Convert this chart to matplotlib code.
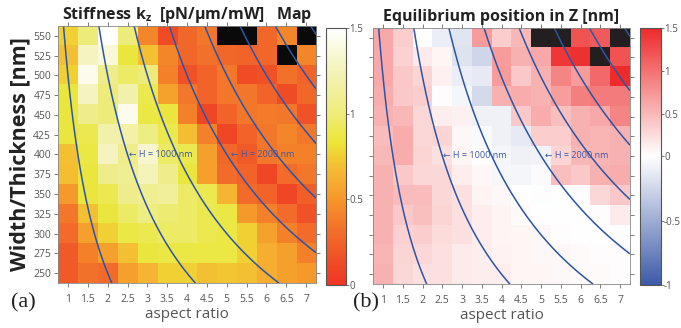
import numpy as np
import matplotlib
matplotlib.use('Agg')
from matplotlib import pyplot as plt
from matplotlib.colors import LinearSegmentedColormap, TwoSlopeNorm, Normalize

plt.rcParams['font.family'] = ['Open Sans', 'DejaVu Sans']
plt.rcParams['mathtext.fontset'] = 'custom'
plt.rcParams['mathtext.rm'] = 'Open Sans'
plt.rcParams['mathtext.bf'] = 'Open Sans:bold'

nan = np.nan
aspect = [1, 1.5, 2, 2.5, 3, 3.5, 4, 4.5, 5, 5.5, 6, 6.5, 7]
width = [550, 525, 500, 475, 450, 425, 400, 375, 350, 325, 300, 275, 250]
aspect_labels = ['1', '1.5', '2', '2.5', '3', '3.5', '4', '4.5', '5', '5.5', '6', '6.5', '7']
H_levels = [500, 1000, 1500, 2000, 2500, 3000, 3500, 4000]

# stiffness k_z [pN/um/mW], rows from 550 nm down to 250 nm
stiffness = [
    [0.75, 1.00, 1.50, 1.00, 0.43, 0.13, 0.28, 0.36, nan, nan, 0.28, 0.43, nan],
    [0.70, 1.28, 1.36, 0.85, 0.70, 0.43, 0.28, 0.33, 0.28, 0.26, 0.28, nan, 0.43],
    [0.75, 1.43, 1.07, 0.95, 1.00, 0.40, 0.16, 0.26, 0.36, 0.13, 0.16, 0.33, 0.26],
    [0.85, 1.28, 1.00, 1.20, 0.90, 0.56, 0.36, 0.26, 0.36, 0.36, 0.26, 0.13, 0.28],
    [0.85, 1.07, 1.00, 1.43, 0.87, 0.85, 0.40, 0.10, 0.26, 0.36, 0.38, 0.36, 0.16],
    [0.85, 0.90, 1.20, 1.18, 1.04, 0.90, 0.69, 0.40, 0.10, 0.26, 0.36, 0.43, 0.36],
    [0.70, 0.87, 1.28, 1.07, 1.33, 0.95, 0.90, 0.55, 0.28, 0.20, 0.36, 0.40, 0.40],
    [0.69, 0.85, 1.07, 1.10, 1.25, 1.07, 0.85, 0.55, 0.30, 0.26, 0.10, 0.30, 0.36],
    [0.52, 0.85, 0.90, 1.07, 1.10, 1.13, 0.95, 0.90, 0.65, 0.30, 0.26, 0.10, 0.23],
    [0.36, 0.70, 0.85, 0.95, 1.04, 0.98, 0.95, 0.90, 0.87, 0.52, 0.40, 0.30, 0.16],
    [0.30, 0.55, 0.75, 0.87, 0.90, 0.95, 0.95, 0.90, 0.87, 0.75, 0.56, 0.40, 0.30],
    [0.20, 0.40, 0.55, 0.70, 0.85, 0.87, 0.87, 0.87, 0.87, 0.75, 0.62, 0.55, 0.40],
    [0.20, 0.33, 0.30, 0.55, 0.65, 0.75, 0.75, 0.70, 0.72, 0.70, 0.62, 0.55, 0.52],
]

# equilibrium position in Z [nm]
z_eq = [
    [0.60, 0.35, 0.00, -0.10, -0.15, 0.70, 0.35, 0.50, nan, nan, 1.20, 1.15, nan],
    [0.60, 0.32, 0.15, 0.07, -0.17, -0.25, 0.70, 0.55, 0.60, 1.40, 1.45, nan, 1.20],
    [0.60, 0.38, 0.30, 0.10, -0.10, -0.12, 0.70, 0.38, 0.55, 0.85, 0.70, 1.05, 1.50],
    [0.58, 0.38, 0.34, 0.02, -0.05, -0.22, 0.55, 0.58, 0.53, 0.68, 0.90, 0.92, 0.92],
    [0.55, 0.50, 0.28, 0.12, 0.10, -0.08, -0.08, 0.38, 0.58, 0.45, 0.55, 0.60, 0.85],
    [0.48, 0.58, 0.28, 0.30, 0.05, -0.03, -0.08, -0.12, 0.35, 0.35, 0.55, 0.52, 0.55],
    [0.50, 0.58, 0.30, 0.22, 0.07, 0.02, -0.05, -0.08, -0.07, 0.30, 0.50, 0.52, 0.55],
    [0.55, 0.38, 0.28, 0.28, 0.12, 0.05, -0.04, -0.05, -0.02, 0.45, 0.38, 0.55, 0.58],
    [0.55, 0.48, 0.48, 0.28, 0.22, 0.08, 0.05, 0.00, -0.01, 0.00, 0.02, 0.28, 0.38],
    [0.55, 0.38, 0.45, 0.30, 0.22, 0.12, 0.08, 0.03, 0.00, 0.00, 0.00, 0.02, 0.15],
    [0.55, 0.32, 0.35, 0.25, 0.22, 0.12, 0.08, 0.07, 0.05, 0.02, 0.00, 0.00, 0.00],
    [0.52, 0.30, 0.28, 0.22, 0.15, 0.12, 0.09, 0.07, 0.05, 0.05, 0.03, 0.02, 0.02],
    [0.55, 0.28, 0.22, 0.22, 0.13, 0.12, 0.12, 0.07, 0.07, 0.05, 0.03, 0.03, 0.02],
]

k_cmap = LinearSegmentedColormap.from_list('kz', [
    (0.0, '#ee3524'), (0.2, '#f26b2a'), (0.333, '#f6962b'), (0.46, '#f5be33'),
    (0.553, '#ebe634'), (0.667, '#eeec7a'), (0.833, '#f4f3b8'), (1.0, '#ffffff')])
k_cmap.set_bad('#0a0a0a')
z_cmap = LinearSegmentedColormap.from_list('zeq', ['#3d5aa8', '#ffffff', '#ee2a2a'])
z_cmap.set_bad('#231f20')

grey = '#555555'
line_blue = '#2a55a8'

fig = plt.figure(figsize=(6.81, 3.28), dpi=100)
ax1 = fig.add_axes([0.0852, 0.137, 0.379, 0.784])
cax1 = fig.add_axes([0.478, 0.131, 0.030, 0.784])
ax2 = fig.add_axes([0.548, 0.134, 0.377, 0.781])
cax2 = fig.add_axes([0.940, 0.131, 0.030, 0.784])

extent = [aspect[0] - 0.25, aspect[-1] + 0.25, width[-1] - 12.5, width[0] + 12.5]
im1 = ax1.imshow(np.array(stiffness), cmap=k_cmap, norm=Normalize(0, 1.5),
                 extent=extent, origin='upper', aspect='auto', interpolation='nearest')
im2 = ax2.imshow(np.array(z_eq), cmap=z_cmap, norm=TwoSlopeNorm(0, -1, 1.5),
                 extent=extent, origin='upper', aspect='auto', interpolation='nearest')

A, W = np.meshgrid(np.linspace(extent[0], extent[1], 300),
                   np.linspace(extent[2], extent[3], 300))
for ax in (ax1, ax2):
    ax.contour(A, W, A * W, levels=H_levels, colors=line_blue, linewidths=1.1)
    ax.text(2.53, 400, '← H = 1000 nm', color='#3a5aa8', fontsize=6.5,
            va='center', ha='left')
    ax.text(5.1, 400, '← H = 2000 nm', color='#3a5aa8', fontsize=6.5,
            va='center', ha='left')
    ax.set_xlim(extent[0], extent[1])
    ax.set_ylim(extent[2], extent[3])
    ax.set_xticks(aspect)
    ax.set_xticklabels(aspect_labels)
    ax.set_yticks(width)
    ax.tick_params(direction='out', length=3, width=0.6, colors='#666666',
                   labelcolor=grey, labelsize=7.5, top=True, right=True, pad=2)
    ax.tick_params(axis='x', pad=5)
    for s in ax.spines.values():
        s.set_color('#888888')
        s.set_linewidth(0.6)
    ax.set_xlabel('aspect ratio', fontsize=11, color=grey, labelpad=1)

ax2.set_yticklabels([])
ax1.set_ylabel('Width/Thickness [nm]', fontsize=15.5, fontweight='bold',
               color='#222222', labelpad=2)

ax1.set_title(r'Stiffness k$_\mathbf{z}$  [pN/μm/mW]   Map', fontsize=11.5,
              fontweight='bold', color='#222222', pad=5)
ax2.set_title('Equilibrium position in Z [nm]', fontsize=11.5,
              fontweight='bold', color='#222222', pad=5)

cb1 = fig.colorbar(im1, cax=cax1, ticks=[0, 0.5, 1, 1.5])
cb1.ax.set_yticklabels(['0', '0.5', '1', '1.5'])
cb2 = fig.colorbar(im2, cax=cax2, ticks=[-1, -0.5, 0, 0.5, 1, 1.5])
cb2.ax.set_yticklabels(['-1', '-0.5', '0', '0.5', '1', '1.5'])
for cb in (cb1, cb2):
    cb.outline.set_edgecolor('#555555')
    cb.outline.set_linewidth(0.8)
    cb.ax.tick_params(length=2, width=0.6, colors='#666666', labelcolor=grey,
                      labelsize=7, pad=0.5)
cb2.ax.set_ylim(-1, 1.5)

fig.text(0.016, 0.076, '(a)', fontsize=16, family='Liberation Serif',
         color='#222222', va='center')
fig.text(0.519, 0.076, '(b)', fontsize=16, family='Liberation Serif',
         color='#222222', va='center')

fig.savefig('out.png', dpi=100)
